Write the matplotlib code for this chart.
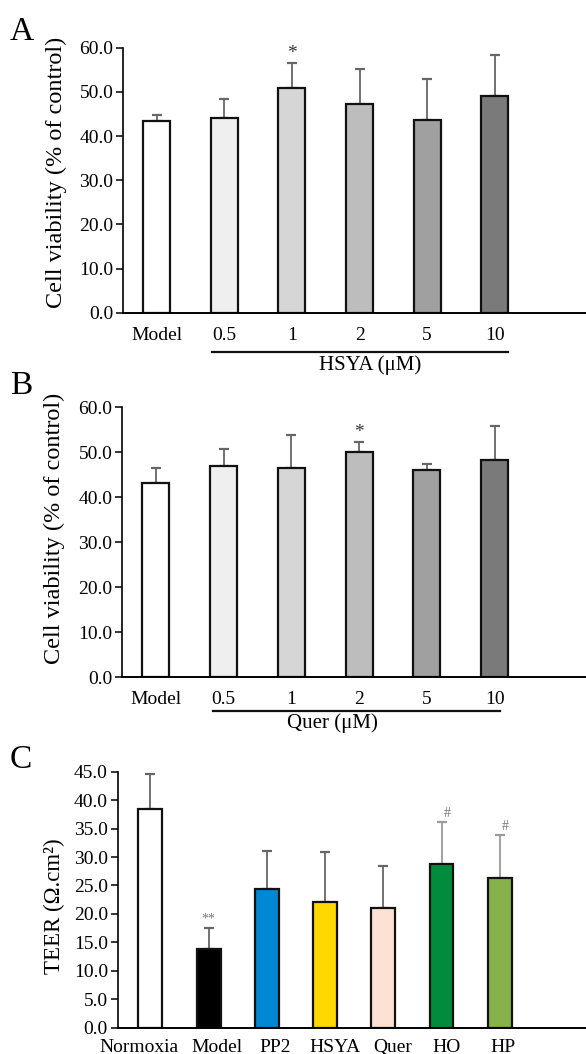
import matplotlib
matplotlib.use("Agg")
import matplotlib.pyplot as plt
from matplotlib.lines import Line2D
import matplotlib.transforms as mtransforms

plt.rcParams['font.family'] = ['Liberation Serif', 'DejaVu Serif']

# ---- Data ----
conc_labels = ["Model", "0.5", "1", "2", "5", "10"]
gray_colors = ["#ffffff", "#efefef", "#d6d6d6", "#bdbdbd", "#a0a0a0", "#7a7a7a"]

hsya_mean = [43.3, 44.1, 50.9, 47.3, 43.7, 49.0]
hsya_err = [1.4, 4.2, 5.6, 7.9, 9.2, 9.3]
hsya_sig = ["", "", "*", "", "", ""]

quer_mean = [43.1, 47.0, 46.6, 50.0, 46.0, 48.4]
quer_err = [3.5, 3.8, 7.2, 2.4, 1.3, 7.5]
quer_sig = ["", "", "", "*", "", ""]

teer_labels = ["Normoxia", "Model", "PP2", "HSYA", "Quer", "HO", "HP"]
teer_mean = [38.4, 13.8, 24.4, 22.1, 21.0, 28.7, 26.3]
teer_err = [6.2, 3.8, 6.6, 8.8, 7.5, 7.5, 7.6]
teer_colors = ["#ffffff", "#000000", "#0088d2", "#ffd800", "#fde2d4", "#008c3c", "#86b24c"]
teer_sig = ["", "**", "", "", "", "#", "#"]
teer_errcolors = ["#666666", "#666666", "#666666", "#666666", "#666666", "#9a9a9a", "#9a9a9a"]

W, H = 586, 1054
fig = plt.figure(figsize=(W / 100, H / 100), dpi=100)

TICK_FS = 14


def style_axes(ax):
    for s in ["top", "right"]:
        ax.spines[s].set_visible(False)
    ax.spines["left"].set_linewidth(1.2)
    ax.spines["bottom"].set_linewidth(1.4)
    ax.tick_params(axis="y", direction="out", length=5, width=1.1, labelsize=TICK_FS, pad=2)
    ax.tick_params(axis="x", length=0, labelsize=TICK_FS)


def viability_panel(rect, means, errs, sigs, group_label, letter, letter_y, line_y, text_y,
                    line_x0, line_x1, text_x, ylabel_y):
    ax = fig.add_axes(rect)
    x = list(range(len(means)))
    ax.bar(x, means, width=0.4, color=gray_colors, edgecolor="#111111", linewidth=1.6, zorder=2)
    ax.errorbar(x, means, yerr=[[0] * len(errs), errs], fmt="none", ecolor="#666666",
                elinewidth=1.3, capsize=3.5, capthick=1.6, zorder=1)
    for xi, m, e, s in zip(x, means, errs, sigs):
        if s:
            ax.text(xi, m + e + 0.2, s, ha="center", va="bottom", fontsize=14, color="#333333")
    ax.set_ylim(0, 60)
    ax.set_yticks(range(0, 61, 10))
    ax.set_yticklabels([f"{v:.1f}" for v in range(0, 61, 10)])
    ax.set_xlim(-0.5, 6.35)
    ax.set_xticks(x)
    ax.set_xticklabels(conc_labels)
    style_axes(ax)
    ax.tick_params(axis="x", pad=10)
    ax.set_ylabel("Cell viability (% of control)", fontsize=17.5)
    ax.yaxis.set_label_coords(-0.122, ylabel_y)
    fig.text(10 / W, 1 - letter_y / H, letter, fontsize=24, ha="left", va="top")
    fig.add_artist(Line2D([line_x0 / W, line_x1 / W], [1 - line_y / H, 1 - line_y / H],
                          color="#111111", linewidth=1.6))
    fig.text(text_x / W, 1 - text_y / H, group_label, fontsize=15, ha="center", va="center")
    return ax


viability_panel([123 / W, 1 - 312.7 / H, 1 - 123 / W, (312.7 - 47.7) / H],
                hsya_mean, hsya_err, hsya_sig, "HSYA (\u03bcM)", "A", 17, 352, 365, 212, 508, 370, 0.528)
viability_panel([122 / W, 1 - 677.3 / H, 1 - 122 / W, (677.3 - 407.3) / H],
                quer_mean, quer_err, quer_sig, "Quer (\u03bcM)", "B", 371, 711, 723, 213, 500, 332, 0.55)

# ---- Panel C ----
axc = fig.add_axes([117.7 / W, 1 - 1027.7 / H, 1 - 117.7 / W, (1027.7 - 771.7) / H])
xc = list(range(len(teer_mean)))
axc.bar(xc, teer_mean, width=0.41, color=teer_colors, edgecolor="#111111", linewidth=1.6, zorder=2)
for xi, m, e, ec in zip(xc, teer_mean, teer_err, teer_errcolors):
    axc.errorbar([xi], [m], yerr=[[0], [e]], fmt="none", ecolor=ec,
                 elinewidth=1.3, capsize=3.5, capthick=1.6, zorder=1)
for xi, m, e, s in zip(xc, teer_mean, teer_err, teer_sig):
    if s:
        axc.text(xi + (0.1 if s == "#" else 0), m + e + 0.3, s, ha="center", va="bottom",
                 fontsize=10, color="#777777")
axc.set_ylim(0, 45)
axc.set_yticks([v * 5 for v in range(10)])
axc.set_yticklabels([f"{v * 5:.1f}" for v in range(10)])
axc.set_xlim(-0.56, 7.48)
axc.set_xticks(xc)
axc.set_xticklabels(teer_labels)
style_axes(axc)
axc.tick_params(axis="x", pad=8)
label_shift_px = [-11, 8, 8, 10, 9, 5, 3]
for lbl, dx in zip(axc.get_xticklabels(), label_shift_px):
    lbl.set_transform(lbl.get_transform() + mtransforms.ScaledTranslation(dx / 100, 0, fig.dpi_scale_trans))
axc.set_ylabel("TEER (\u03a9.cm\u00b2)", fontsize=16.5)
axc.yaxis.set_label_coords(-0.112, 0.475)
fig.text(10 / W, 1 - 745 / H, "C", fontsize=24, ha="left", va="top")

fig.savefig("out.png", dpi=100)
